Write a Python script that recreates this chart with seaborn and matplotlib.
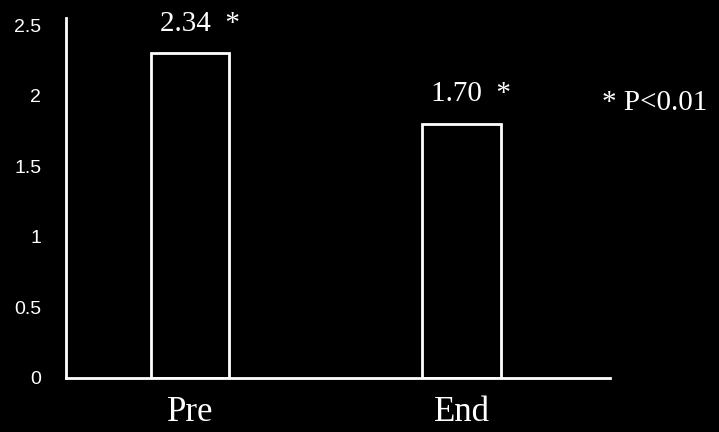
"""Pre vs End bar chart on black background."""

import matplotlib

matplotlib.use("Agg")
import matplotlib.pyplot as plt
import seaborn as sns

phases = ["Pre", "End"]
heights = [2.30, 1.80]
value_labels = ["2.34", "1.70"]
yticks = [0, 0.5, 1, 1.5, 2, 2.5]
ytick_labels = ["0", "0.5", "1", "1.5", "2", "2.5"]
note = "* P<0.01"

sns.set_style("dark", {"axes.facecolor": "black", "figure.facecolor": "black"})

fig = plt.figure(figsize=(7.19, 4.32), dpi=100)
ax = fig.add_axes([0.092, 0.125, 0.756, 0.833])

sns.barplot(x=phases, y=heights, ax=ax, color="black", edgecolor="white",
            linewidth=2, width=0.29, saturation=1)

ax.set_xlim(-0.456, 1.544)
ax.set_ylim(0, 2.55)
ax.set_yticks(yticks)
ax.set_yticklabels(ytick_labels, fontfamily="Liberation Sans", fontsize=14, color="white")
ax.set_xticks(range(len(phases)))
ax.set_xticklabels(phases, fontfamily="Liberation Serif", fontsize=25, color="white")
ax.tick_params(axis="y", direction="in", length=3, color="white", pad=18)
ax.tick_params(axis="x", length=0, pad=13)
ax.set_xlabel("")
ax.set_ylabel("")
ax.grid(False)

for side in ["top", "right"]:
    ax.spines[side].set_visible(False)
for side in ["left", "bottom"]:
    ax.spines[side].set_visible(True)
    ax.spines[side].set_color("white")
    ax.spines[side].set_linewidth(2)

for i, (h, lab) in enumerate(zip(heights, value_labels)):
    ax.text(i + 0.035, h + 0.21, lab + "  *", ha="center", va="center",
            fontfamily="Liberation Serif", fontsize=21, color="white")

ax.text(1.71, 1.95, note, ha="center", va="center", clip_on=False,
        fontfamily="Liberation Serif", fontsize=21, color="white")

fig.savefig("out.png", dpi=100, facecolor="black")
plt.close(fig)
